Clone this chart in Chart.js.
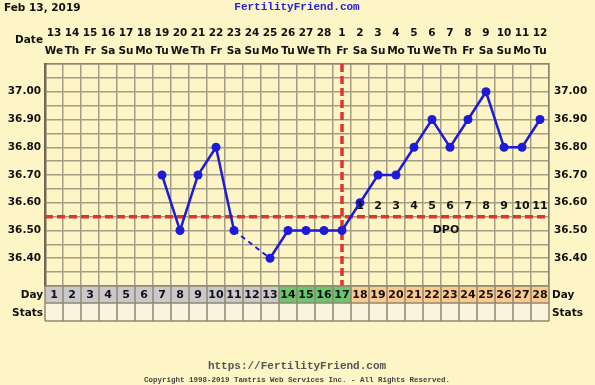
<!DOCTYPE html>
<html><head><meta charset="utf-8">
<script src="https://cdn.jsdelivr.net/npm/chart.js@4/dist/chart.umd.min.js"></script>
<style>html,body{margin:0;padding:0;background:#fdf5c5;}#wrap{width:595px;height:385px;}</style>
</head><body><div id="wrap"><canvas id="c" width="595" height="385"></canvas></div>
<script>
// ---- data ----
const cycleDays = [1,2,3,4,5,6,7,8,9,10,11,12,13,14,15,16,17,18,19,20,21,22,23,24,25,26,27,28];
const dates = ['13','14','15','16','17','18','19','20','21','22','23','24','25','26','27','28','1','2','3','4','5','6','7','8','9','10','11','12'];
const weekdays = ['We','Th','Fr','Sa','Su','Mo','Tu','We','Th','Fr','Sa','Su','Mo','Tu','We','Th','Fr','Sa','Su','Mo','Tu','We','Th','Fr','Sa','Su','Mo','Tu'];
const temps = [null,null,null,null,null,null,36.70,36.50,36.70,36.80,36.50,null,36.40,36.50,36.50,36.50,36.50,36.60,36.70,36.70,36.80,36.90,36.80,36.90,37.00,36.80,36.80,36.90];
const phases = ['g','g','g','g','g','g','g','g','g','g','g','g','g','f','f','f','f','l','l','l','l','l','l','l','l','l','l','l'];
const dpoLabels = ['','','','','','','','','','','','','','','','','','1','2','3','4','5','6','7','8','9','10','11'];
const tempGridValues = [36.30,36.35,36.40,36.45,36.50,36.55,36.60,36.65,36.70,36.75,36.80,36.85,36.90,36.95,37.00,37.05,37.10];
const tempLabelValues = [36.40,36.50,36.60,36.70,36.80,36.90,37.00];
const coverline = 36.55;
const ovulationDayIndex = 16;
const chartTitle = 'Feb 13, 2019';
const siteName = 'FertilityFriend.com';

const BG = '#fdf5c5', GRID = '#a59e87', CELLB = '#8e8872';
const phaseColors = {g:'#c9c9cc', f:'#6fc46f', l:'#fbc98e'};
const FONT = 'DejaVu Sans';

const decor = {
  id: 'decor',
  beforeDraw(chart){
    const c = chart.ctx;
    c.save(); c.fillStyle = BG; c.fillRect(0,0,chart.width,chart.height); c.restore();
  },
  beforeDatasetsDraw(chart){
    const c = chart.ctx, a = chart.chartArea, xs = chart.scales.x, ys = chart.scales.y;
    c.save();
    c.strokeStyle = '#e2322c'; c.lineWidth = 3.5; c.setLineDash([8,4]);
    const yc = ys.getPixelForValue(coverline);
    c.beginPath(); c.moveTo(a.left, yc); c.lineTo(a.right, yc); c.stroke();
    const xo = xs.getPixelForValue(ovulationDayIndex);
    c.beginPath(); c.moveTo(xo, a.top); c.lineTo(xo, a.bottom); c.stroke();
    c.restore();
  },
  afterDatasetsDraw(chart){
    const c = chart.ctx, xs = chart.scales.x, ys = chart.scales.y;
    c.save();
    c.fillStyle = '#111'; c.font = 'bold 11px "'+FONT+'"';
    c.textAlign = 'center'; c.textBaseline = 'middle';
    const yl = ys.getPixelForValue(coverline) - 10;
    dpoLabels.forEach((t,i)=>{ if(t) c.fillText(t, xs.getPixelForValue(i), yl); });
    c.fillText('DPO', xs.getPixelForValue(22) - 4, ys.getPixelForValue(36.50));
    c.restore();
  },
  afterDraw(chart){
    const c = chart.ctx, a = chart.chartArea, xs = chart.scales.x;
    const w = (a.right - a.left) / cycleDays.length;
    c.save();
    c.fillStyle = '#111'; c.font = 'bold 10.5px "'+FONT+'"';
    c.textAlign = 'left'; c.textBaseline = 'middle';
    c.fillText(chartTitle, 4, 8);
    c.fillStyle = '#2323d6'; c.font = 'bold 11px "Liberation Mono"'; c.textAlign = 'center';
    c.fillText(siteName, 297, 7);
    c.fillStyle = '#111'; c.font = 'bold 10.5px "'+FONT+'"'; c.textAlign = 'right';
    c.fillText('Date', 43, 40);
    const r1 = a.bottom, r2 = a.bottom + 17, r3 = a.bottom + 35;
    cycleDays.forEach((d,i)=>{
      const x0 = xs.getPixelForValue(i) - w/2;
      c.fillStyle = phaseColors[phases[i]]; c.fillRect(x0, r1, w, r2-r1);
      c.fillStyle = '#fcf3dc'; c.fillRect(x0, r2, w, r3-r2);
    });
    c.strokeStyle = CELLB; c.lineWidth = 1.5;
    c.beginPath();
    for (let i=0;i<=cycleDays.length;i++){ const x = a.left + i*w; c.moveTo(x, r1); c.lineTo(x, r3); }
    [r1,r2,r3].forEach(y=>{ c.moveTo(a.left, y); c.lineTo(a.right, y); });
    c.stroke();
    c.fillStyle = '#111'; c.font = 'bold 11px "'+FONT+'"'; c.textAlign = 'center';
    cycleDays.forEach((d,i)=>{ c.fillText(String(d), xs.getPixelForValue(i), (r1+r2)/2 + 0.5); });
    c.font = 'bold 10.5px "'+FONT+'"';
    c.textAlign = 'right';
    c.fillText('Day', 43, (r1+r2)/2 + 1); c.fillText('Stats', 43, (r2+r3)/2 + 1);
    c.textAlign = 'left';
    c.fillText('Day', 552, (r1+r2)/2 + 1); c.fillText('Stats', 552, (r2+r3)/2 + 1);
    c.textAlign = 'center';
    c.fillStyle = '#555'; c.font = 'bold 11px "Liberation Mono"';
    c.fillText('https://FertilityFriend.com', 297, 366);
    c.fillStyle = '#444'; c.font = 'bold 7.5px "Liberation Mono"';
    c.fillText('Copyright 1998-2019 Tamtris Web Services Inc. - All Rights Reserved.', 297, 380);
    c.restore();
  }
};

const yTickCallback = v => {
  const r = Math.round(v*100);
  return tempLabelValues.some(t => Math.round(t*100) === r) ? (r/100).toFixed(2) : '';
};
const setTicks = s => { s.ticks = tempGridValues.map(v => ({value: v})); };
const isGapSegment = ctx => temps[ctx.p0DataIndex] === null || temps[ctx.p1DataIndex] === null;

new Chart(document.getElementById('c'), {
  type: 'line',
  data: {
    labels: dates.map((d,i)=>[d, weekdays[i]]),
    datasets: [{
      data: temps,
      yAxisID: 'y',
      borderColor: '#1d1bd8',
      backgroundColor: '#1d1bd8',
      borderWidth: 2.5,
      pointRadius: 4.5,
      pointHoverRadius: 4.5,
      pointBorderWidth: 0,
      spanGaps: true,
      tension: 0,
      segment: {
        borderDash: ctx => (isGapSegment(ctx) ? [5,4] : undefined),
        borderWidth: ctx => (isGapSegment(ctx) ? 2 : undefined)
      }
    }]
  },
  options: {
    responsive: false,
    animation: false,
    devicePixelRatio: 1,
    layout: {padding: {top: 22, bottom: 99, left: 0, right: 0}},
    plugins: {legend: {display: false}, tooltip: {enabled: false}},
    scales: {
      x: {
        type: 'category', position: 'top', offset: true,
        grid: {offset: true, color: GRID, lineWidth: 1.5, drawTicks: false},
        border: {color: '#8a836e', width: 1.5},
        ticks: {autoSkip: false, maxRotation: 0, color: '#111', padding: 4,
                font: {family: FONT, weight: 'bold', size: 10.5, lineHeight: 1.7}},
        afterFit: s => { s.height = 42; }
      },
      y: {
        type: 'linear', position: 'left', min: 36.3, max: 37.1,
        afterBuildTicks: setTicks,
        grid: {color: GRID, lineWidth: 1.5, drawTicks: false},
        border: {color: '#6f6855', width: 2.5},
        ticks: {callback: yTickCallback, autoSkip: false, color: '#111', padding: 4,
                font: {family: FONT, weight: 'bold', size: 10.5}},
        afterFit: s => { s.width = 45; }
      },
      y2: {
        type: 'linear', position: 'right', min: 36.3, max: 37.1,
        afterBuildTicks: setTicks,
        grid: {display: false, drawTicks: false},
        border: {color: '#8a836e', width: 1.5},
        ticks: {callback: yTickCallback, autoSkip: false, color: '#111', padding: 5,
                font: {family: FONT, weight: 'bold', size: 10.5}},
        afterFit: s => { s.width = 46; }
      }
    }
  },
  plugins: [decor]
});
</script></body></html>
